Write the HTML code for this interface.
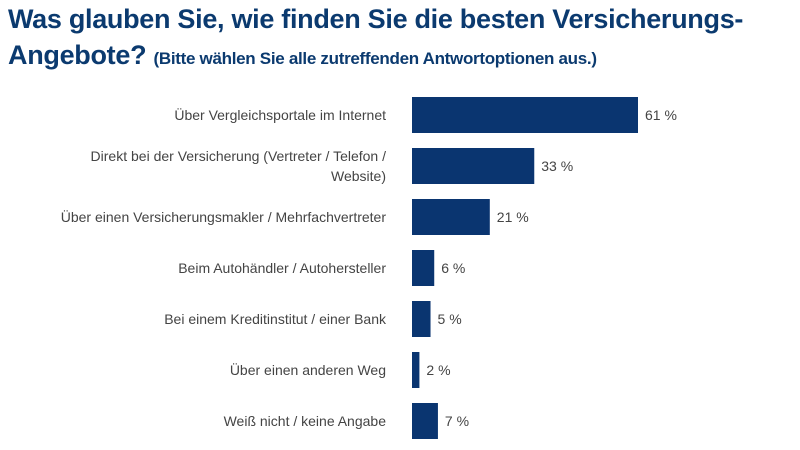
<!DOCTYPE html>
<html><head><meta charset="utf-8"><style>
body{margin:0;width:800px;height:450px;background:#fff;font-family:"Liberation Sans",sans-serif;overflow:hidden;position:relative}
.t{position:absolute;left:8px;color:#0b3a6f;font-weight:bold;white-space:nowrap}
</style></head><body>
<div class="t" style="top:4px;font-size:27px;letter-spacing:-0.3px">Was glauben Sie, wie finden Sie die besten Versicherungs-</div>
<div class="t" style="top:40px;font-size:27px;letter-spacing:-0.3px">Angebote? <span style="font-size:17px">(Bitte wählen Sie alle zutreffenden Antwortoptionen aus.)</span></div>
<svg id="c" width="800" height="450" style="position:absolute;left:0;top:0"></svg>
<script>
const categories=[["Über Vergleichsportale im Internet"],["Direkt bei der Versicherung (Vertreter / Telefon /","Website)"],["Über einen Versicherungsmakler / Mehrfachvertreter"],["Beim Autohändler / Autohersteller"],["Bei einem Kreditinstitut / einer Bank"],["Über einen anderen Weg"],["Weiß nicht / keine Angabe"]];
const values=[61,33,21,6,5,2,7];
const valueLabels=["61 %","33 %","21 %","6 %","5 %","2 %","7 %"];
const svg=document.getElementById('c');const NS="http://www.w3.org/2000/svg";
const x0=412,pxPer=226/61,y0=115,step=51,bh=36;
const xs=v=>v*pxPer, ys=i=>y0+i*step;
values.forEach((v,i)=>{
 const cy=ys(i);
 const r=document.createElementNS(NS,'rect');
 
 
 r.setAttribute('x',x0);r.setAttribute('y',cy-bh/2);r.setAttribute('width',xs(v));r.setAttribute('height',bh);r.setAttribute('fill','#0a3570');svg.appendChild(r);
 const t=document.createElementNS(NS,'text');
 
 
 t.setAttribute('x',x0+xs(v)+7);t.setAttribute('y',cy+5);t.setAttribute('font-size','14');t.setAttribute('fill','#444');t.textContent=valueLabels[i];svg.appendChild(t);
 const lines=categories[i];
 lines.forEach((ln,k)=>{
  const c=document.createElementNS(NS,'text');
  
  
  const off=lines.length>1?(k*20-10+5):5;
  c.setAttribute('x',386);c.setAttribute('y',cy+off);c.setAttribute('text-anchor','end');c.setAttribute('font-size','14');c.setAttribute('fill','#444');c.textContent=ln;svg.appendChild(c);
 });
});
</script>
</body></html>
